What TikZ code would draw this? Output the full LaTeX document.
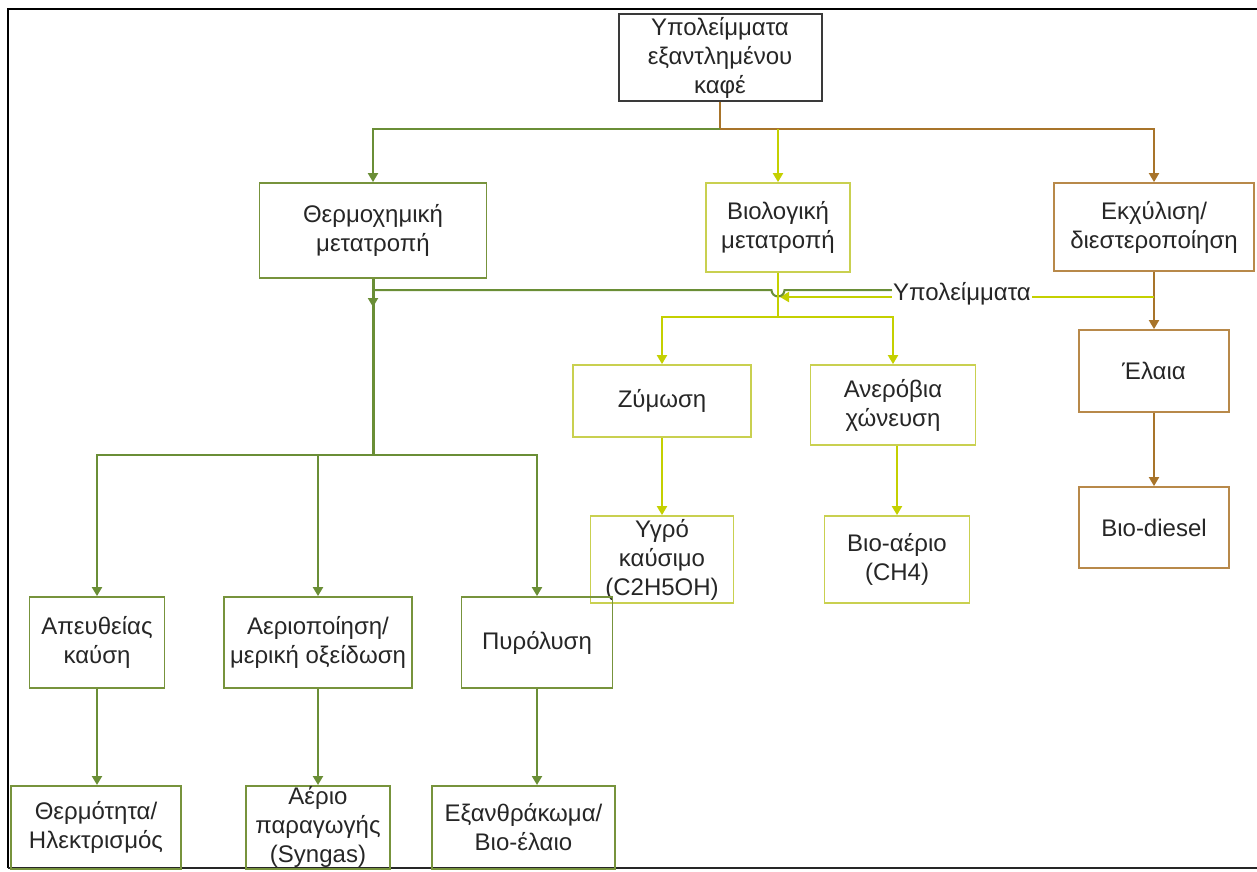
\documentclass[tikz,border=0pt]{standalone}
\usepackage{fontspec}
\setmainfont{Liberation Sans}
\usetikzlibrary{arrows.meta}
\definecolor{gline}{HTML}{6A8E36}
\definecolor{gbox}{HTML}{77933C}
\definecolor{yline}{HTML}{C4D000}
\definecolor{ybox}{HTML}{C9D050}
\definecolor{bline}{HTML}{A8742A}
\definecolor{bbox}{HTML}{B8894A}
\definecolor{topbox}{HTML}{3A3A3A}
\tikzset{
  box/.style={draw, line width=1.8pt, align=center, inner sep=1pt,
    font=\fontsize{24}{29}\selectfont, text=black!85},
  gb/.style={box, draw=gbox},
  yb/.style={box, draw=ybox},
  bb/.style={box, draw=bbox},
  tip/.style={-{Triangle[width=10pt,length=9pt]}},
  gl/.style={draw=gline, line width=2pt},
  yl/.style={draw=yline, line width=2pt},
  bl/.style={draw=bline, line width=2pt},
}
\begin{document}
\begin{tikzpicture}[x=1pt,y=-1pt]
\useasboundingbox (0,0) rectangle (1257,871);
% frame
\draw[line width=2.5pt] (8,868) -- (8,9) -- (1257,9);
\draw[line width=2pt, black!85] (8,868) -- (1257,868);

% nodes
\node[box, draw=topbox, line width=2pt, minimum width=203pt, minimum height=87pt] (top) at (720,57.5) {Υπολείμματα\\εξαντλημένου\\καφέ};
\node[gb, minimum width=227pt, minimum height=95pt] (thermo) at (373,230.5) {Θερμοχημική\\μετατροπή};
\node[yb, minimum width=144pt, minimum height=89pt] (bio) at (778,227.5) {Βιολογική\\μετατροπή};
\node[bb, minimum width=200pt, minimum height=88pt] (ekx) at (1154,227) {Εκχύλιση/\\διεστεροποίηση};
\node[bb, minimum width=150pt, minimum height=82pt] (elaia) at (1154,371) {Έλαια};
\node[bb, minimum width=150pt, minimum height=81pt] (diesel) at (1154,527.5) {Βιο-diesel};

\node[yb, minimum width=178pt, minimum height=72pt] (zym) at (662,401) {Ζύμωση};
\node[yb, minimum width=165pt, minimum height=80pt] (anaer) at (893,405) {Ανερόβια\\χώνευση};
\node[yb, minimum width=143pt, minimum height=87pt] (ygro) at (662,559.5) {Υγρό\\καύσιμο\\(C2H5OH)};
\node[yb, minimum width=145pt, minimum height=87pt] (bioaer) at (897,559.5) {Βιο-αέριο\\(CH4)};

\node[gb, minimum width=135pt, minimum height=91pt] (apeu) at (97,642.5) {Απευθείας\\καύση};
\node[gb, minimum width=188pt, minimum height=91pt] (aerio) at (318,642.5) {Αεριοποίηση/\\μερική οξείδωση};
\node[gb, minimum width=151pt, minimum height=91pt] (pyro) at (537,642.5) {Πυρόλυση};

\node[gb, minimum width=170pt, minimum height=83pt, anchor=north] (therm) at (96,785) {Θερμότητα/\\Ηλεκτρισμός};
\node[gb, minimum width=144pt, minimum height=83pt, anchor=north] (aeriop) at (318,785) {Αέριο\\παραγωγής\\(Syngas)};
\node[gb, minimum width=183pt, minimum height=83pt, anchor=north] (exan) at (523.5,785) {Εξανθράκωμα/\\Βιο-έλαιο};

% coordinates
\coordinate (split) at (720,129);
\coordinate (ylsplit) at (778,129);
\coordinate (resy) at (1154,297);
\coordinate (resyend) at (780,297);
\coordinate (trunkj) at (373,290);
\coordinate (trunkb) at (373,455);
\coordinate (biosplit) at (778,317);

% top level connectors
\draw[bl] (top.south) -- (split);
\draw[gl, tip] (split) -| (thermo.north);
\draw[bl, tip] (split) -| (ekx.north);
\draw[yl, tip] (ylsplit) -- (bio.north);

% brown chain
\draw[bl, tip] (ekx.south) -- (elaia.north);
\draw[bl, tip] (elaia.south) -- (diesel.north);

% residues: yellow line to biological branch, with label
\draw[yl, tip] (resy) -- (resyend);
\node[fill=white, inner sep=1pt, font=\fontsize{24}{28}\selectfont, text=black!85] (lab) at (962,294) {Υπολείμματα};
% residues: green line with hop over yellow vertical
\draw[gl] (lab.west |- trunkj) -- (784.5,290) arc[start angle=0, end angle=180, radius=6.5] -- (trunkj);

% biological branch
\draw[yl] (bio.south) -- (biosplit);
\draw[yl, tip] (biosplit) -| (zym.north);
\draw[yl, tip] (biosplit) -| (anaer.north);
\draw[yl, tip] (zym.south) -- (ygro.north);
\draw[yl, tip] (anaer.south -| bioaer.north) -- (bioaer.north);

% thermochemical branch
\draw[gl, line width=3pt] (thermo.south) -- (trunkb);
\draw[gl, tip] (trunkj) -- (373,307);
\draw[gl, tip] (trunkb) -| (apeu.north);
\draw[gl, tip] (trunkb) -| (aerio.north);
\draw[gl, tip] (trunkb) -| (pyro.north);
\draw[gl, tip] (apeu.south) -- (apeu.south |- therm.north);
\draw[gl, tip] (aerio.south) -- (aeriop.north);
\draw[gl, tip] (pyro.south) -- (pyro.south |- exan.north);
\end{tikzpicture}
\end{document}
